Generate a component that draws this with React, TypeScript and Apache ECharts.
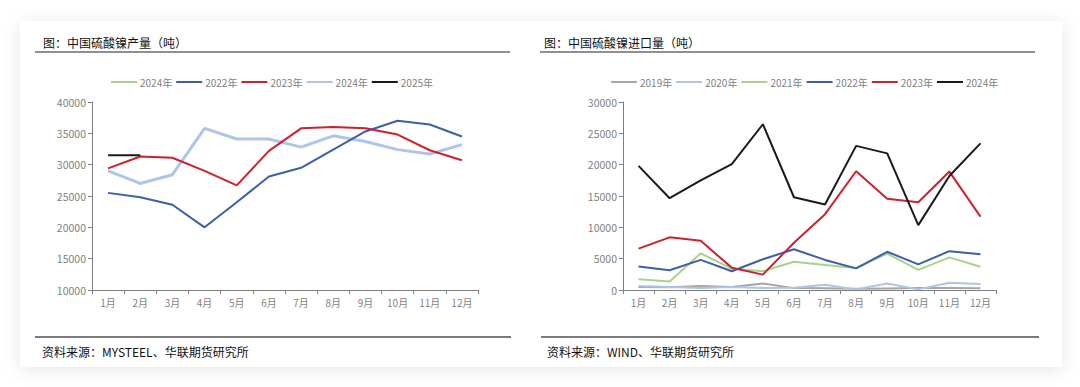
import React, { useEffect, useRef } from "react";
import * as echarts from "echarts";

const months = ["1月", "2月", "3月", "4月", "5月", "6月", "7月", "8月", "9月", "10月", "11月", "12月"];

// Left chart: production (trailing spaces keep legend names unique)
const prodNames = ["2024年", "2022年", "2023年", "2024年 ", "2025年"];
const prodGreen2024: (number | null)[] = [];
const prod2022 = [25500, 24800, 23600, 20000, 24000, 28100, 29500, 32400, 35300, 37000, 36400, 34500];
const prod2023 = [29400, 31300, 31100, 29000, 26700, 32200, 35800, 36000, 35800, 34800, 32300, 30700];
const prod2024 = [29000, 27000, 28400, 35800, 34100, 34100, 32800, 34600, 33700, 32400, 31700, 33200];
const prod2025 = [31500, 31500];

// Right chart: imports
const impNames = ["2019年", "2020年", "2021年", "2022年 ", "2023年 ", "2024年  "];
const imp2019 = [470, 420, 630, 470, 1050, 300, 260, 200, 250, 300, 300, 260];
const imp2020 = [630, 470, 300, 470, 300, 370, 840, 100, 1050, 100, 1150, 950];
const imp2021 = [1700, 1350, 5850, 3400, 3000, 4500, 4000, 3500, 5800, 3200, 5200, 3700];
const imp2022 = [3750, 3150, 4800, 3000, 4900, 6500, 4800, 3450, 6100, 4100, 6200, 5700];
const imp2023 = [6600, 8400, 7850, 3550, 2450, 7550, 12100, 18950, 14550, 14000, 18900, 11700];
const imp2024 = [19800, 14650, 17500, 20100, 26450, 14800, 13650, 23000, 21800, 10350, 18200, 23400];

const C_GREEN = "#a9d18e";
const C_BLUE = "#3d5ea8";
const C_RED = "#d0202a";
const C_LBLUE = "#aec5e8";
const C_BLACK = "#1a1a1a";
const C_GRAY = "#a6a6a6";

const axisGray = "#7f7f7f";
const labelColor = "#7f7f7f";
const FONT = "'Noto Sans CJK SC', 'Noto Sans', sans-serif";

function line(name: string, data: (number | null)[], color: string, width: number, xi: number, z = 2) {
  return {
    name,
    type: "line",
    data,
    xAxisIndex: xi,
    yAxisIndex: xi,
    symbol: "none",
    showSymbol: false,
    lineStyle: { color, width },
    itemStyle: { color },
    z,
  };
}

export default function App() {
  const ref = useRef<HTMLDivElement>(null);
  useEffect(() => {
    document.body.style.margin = "0";
    const chart = echarts.init(ref.current!, undefined, { renderer: "svg" });
    const xAxisBase = (gi: number) => ({
      type: "category",
      gridIndex: gi,
      data: months,
      boundaryGap: true,
      axisLine: { lineStyle: { color: axisGray, width: 1 } },
      axisTick: { show: true, alignWithLabel: false, lineStyle: { color: axisGray }, length: 4 },
      axisLabel: { color: labelColor, fontSize: 10, fontFamily: FONT, margin: 7, interval: 0 },
    });
    const yAxisBase = (gi: number, min: number, max: number, interval: number) => ({
      type: "value",
      gridIndex: gi,
      min,
      max,
      interval,
      axisLine: { show: true, lineStyle: { color: axisGray, width: 1 } },
      axisTick: { show: true, lineStyle: { color: axisGray }, length: 4 },
      splitLine: { show: false },
      axisLabel: {
        color: labelColor,
        fontSize: 10.5,
        fontFamily: FONT,
        margin: 6,
        formatter: (v: number) => String(v),
      },
    });
    const legendBase = {
      top: 72,
      icon: "rect",
      itemWidth: 26,
      itemHeight: 2,
      itemGap: 4,
      textStyle: { color: "#7f7f7f", fontSize: 10, fontFamily: FONT, padding: [0, 0, 0, -2] },
      formatter: (n: string) => n.trim(),
    };
    chart.setOption({
      animation: false,
      backgroundColor: "#ffffff",
      graphic: [
        {
          type: "rect",
          shape: { x: 20, y: 21, width: 1042, height: 346 },
          style: { fill: "#ffffff", shadowBlur: 18, shadowColor: "rgba(0,0,0,0.10)", shadowOffsetY: 3 },
          z: -10,
        },
        {
          type: "text",
          x: 43,
          y: 42,
          style: { text: "图：中国硫酸镍产量（吨）", fill: "#111", fontSize: 12, fontFamily: FONT, verticalAlign: "middle" },
        },
        {
          type: "text",
          x: 544,
          y: 42,
          style: { text: "图：中国硫酸镍进口量（吨）", fill: "#111", fontSize: 12, fontFamily: FONT, verticalAlign: "middle" },
        },
        { type: "line", shape: { x1: 35, y1: 52, x2: 510, y2: 52 }, style: { stroke: "#6b6b6b", lineWidth: 1.5 } },
        { type: "line", shape: { x1: 540, y1: 52, x2: 1035, y2: 52 }, style: { stroke: "#6b6b6b", lineWidth: 1.5 } },
        { type: "line", shape: { x1: 35, y1: 337, x2: 511, y2: 337 }, style: { stroke: "#7a7a7a", lineWidth: 2 } },
        { type: "line", shape: { x1: 541, y1: 337, x2: 1039, y2: 337 }, style: { stroke: "#7a7a7a", lineWidth: 2 } },
        {
          type: "text",
          x: 42,
          y: 351,
          style: { text: "资料来源：MYSTEEL、华联期货研究所", fill: "#111", fontSize: 12, fontFamily: FONT, verticalAlign: "middle" },
        },
        {
          type: "text",
          x: 547,
          y: 351,
          style: { text: "资料来源：WIND、华联期货研究所", fill: "#111", fontSize: 12, fontFamily: FONT, verticalAlign: "middle" },
        },
      ],
      legend: [
        { ...legendBase, left: 106, data: prodNames },
        { ...legendBase, left: 606, data: impNames },
      ],
      grid: [
        { left: 92, right: 602, top: 102, bottom: 97, containLabel: false },
        { left: 623, right: 84, top: 102, bottom: 97, containLabel: false },
      ],
      xAxis: [xAxisBase(0), xAxisBase(1)],
      yAxis: [yAxisBase(0, 10000, 40000, 5000), yAxisBase(1, 0, 30000, 5000)],
      series: [
        line(prodNames[0], prodGreen2024, C_GREEN, 2, 0),
        line(prodNames[1], prod2022, C_BLUE, 2, 0, 3),
        line(prodNames[2], prod2023, C_RED, 2, 0, 4),
        line(prodNames[3], prod2024, C_LBLUE, 3, 0, 2),
        line(prodNames[4], prod2025, C_BLACK, 2, 0, 5),
        line(impNames[0], imp2019, C_GRAY, 2, 1),
        line(impNames[1], imp2020, C_LBLUE, 2, 1),
        line(impNames[2], imp2021, C_GREEN, 2, 1),
        line(impNames[3], imp2022, C_BLUE, 2, 1),
        line(impNames[4], imp2023, C_RED, 2, 1),
        line(impNames[5], imp2024, C_BLACK, 2, 1),
      ],
    });
    return () => chart.dispose();
  }, []);
  return <div ref={ref} style={{ position: "fixed", left: 0, top: 0, width: 1080, height: 387 }} />;
}
